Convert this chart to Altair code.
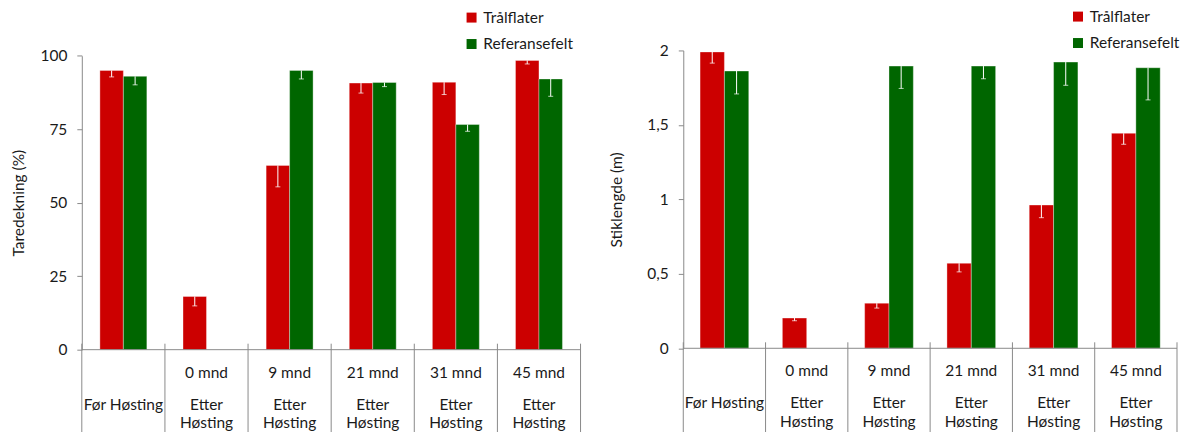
import altair as alt
import pandas as pd

# ---- data ----
categories = ["Før Høsting", "0 mnd", "9 mnd", "21 mnd", "31 mnd", "45 mnd"]
series = ["Trålflater", "Referansefelt"]

row1_labels = ["", "0 mnd", "9 mnd", "21 mnd", "31 mnd", "45 mnd"]
row2_labels = ["Før Høsting", "Etter", "Etter", "Etter", "Etter", "Etter"]
row3_labels = ["", "Høsting", "Høsting", "Høsting", "Høsting", "Høsting"]

# Taredekning (%)
cover_tral = [95.0, 18.1, 62.7, 90.7, 91.0, 98.4]
cover_tral_lo = [92.8, 14.9, 55.4, 87.3, 86.8, 97.2]
cover_ref = [93.0, None, 95.0, 90.9, 76.6, 92.1]
cover_ref_lo = [90.1, None, 92.1, 89.5, 74.3, 86.2]

# Stiklengde (m)
stem_tral = [1.99, 0.203, 0.303, 0.571, 0.962, 1.444]
stem_tral_lo = [1.915, 0.185, 0.270, 0.513, 0.877, 1.370]
stem_ref = [1.862, None, 1.895, 1.895, 1.922, 1.884]
stem_ref_lo = [1.708, None, 1.745, 1.810, 1.766, 1.668]

cover_ticks = [0, 25, 50, 75, 100]
stem_ticks = [0, 0.5, 1, 1.5, 2]

RED = "#CC0000"
GREEN = "#006600"
GRAY = "#8a8a8a"
FONT = "Lato"
FS = 15.5
TXT = "#1a1a1a"


def make_df(tral, tral_lo, ref, ref_lo):
    rows = []
    for i, c in enumerate(categories):
        rows.append({"cat": c, "series": series[0], "value": tral[i], "lower": tral_lo[i]})
        rows.append({"cat": c, "series": series[1], "value": ref[i], "lower": ref_lo[i]})
    return pd.DataFrame(rows)


def panel(df, ymax, ticks, ytitle, width, height, top, off_pad, title_pad, legend_x,
          legend_y):
    x = alt.X("cat:N", sort=categories, axis=None,
              scale=alt.Scale(paddingInner=0, paddingOuter=0))
    xo = alt.XOffset("series:N", sort=series,
                     scale=alt.Scale(paddingInner=0, paddingOuter=off_pad))
    yaxis = alt.Axis(values=ticks, title=ytitle, grid=False, domainColor=GRAY,
                     tickColor=GRAY, tickSize=5, labelPadding=10,
                     labelFontSize=FS, labelFont=FONT, labelColor=TXT,
                     titleFont=FONT, titleFontSize=FS, titleFontWeight="normal",
                     titleColor=TXT, titlePadding=title_pad,
                     labelExpr="replace(toString(datum.value), '.', ',')")
    y = alt.Y("value:Q", scale=alt.Scale(domain=[0, ymax], nice=False,
                                         range=[height, top]), axis=yaxis)

    base = alt.Chart(df)
    bars = base.mark_bar(stroke="white", strokeOpacity=0.35, strokeWidth=1).encode(
        x=x, xOffset=xo, y=y,
        color=alt.Color("series:N", sort=series,
                        scale=alt.Scale(domain=series, range=[RED, GREEN]),
                        legend=alt.Legend(title=None, orient="none",
                                          legendX=legend_x, legendY=legend_y,
                                          symbolType="square", symbolSize=100,
                                          symbolStrokeWidth=0, labelFont=FONT,
                                          labelFontSize=FS, labelColor=TXT,
                                          rowPadding=9.5, labelOffset=4, padding=0)),
    )
    err = base.mark_rule(color="white", strokeWidth=1).encode(
        x=x, xOffset=xo, y="value:Q", y2="lower:Q")
    caps = base.mark_tick(color="white", size=5, thickness=1).encode(
        x=x, xOffset=xo, y="lower:Q")

    zero = alt.Chart(pd.DataFrame({"v": [0]})).mark_rule(color=GRAY).encode(
        y=alt.Y("v:Q"), x=alt.value(0), x2=alt.value(width))

    sep_df = pd.DataFrame({"cat": categories})
    seps = alt.Chart(sep_df).mark_rule(color=GRAY).encode(
        x=alt.X("cat:N", sort=categories, axis=None, bandPosition=0),
        y=alt.value(height - 6), y2=alt.value(height + 95))
    sep_end = alt.Chart(pd.DataFrame({"v": [0]})).mark_rule(color=GRAY).encode(
        x=alt.value(width), y=alt.value(height - 6), y2=alt.value(height + 95))

    texts = []
    for labels, dy in [(row1_labels, 23), (row2_labels, 55), (row3_labels, 74)]:
        tdf = pd.DataFrame({"cat": categories, "label": labels})
        texts.append(alt.Chart(tdf).mark_text(font=FONT, fontSize=FS, color=TXT,
                                              baseline="middle").encode(
            x=alt.X("cat:N", sort=categories, axis=None),
            y=alt.value(height + dy), text="label:N"))

    return alt.layer(bars, err, caps, zero, seps, sep_end, *texts).properties(
        width=width, height=height)


left = panel(make_df(cover_tral, cover_tral_lo, cover_ref, cover_ref_lo), 100, cover_ticks,
             "Taredekning (%)", 500, 300, 5.3, 0.77, 13, 383, -40.7)
right = panel(make_df(stem_tral, stem_tral_lo, stem_ref, stem_ref_lo), 2, stem_ticks,
              "Stiklengde (m)", 495, 298.6, 0, 0.69, 22, 388, -41.7)

chart = alt.hconcat(left, right, spacing=28).resolve_scale(
    color="independent", x="independent", y="independent", xOffset="independent"
).resolve_legend(color="independent").configure(
    padding={"left": 4, "top": 0, "right": 0, "bottom": 0}, font=FONT
).configure_view(stroke=None)

chart.save("out.html", embed_options={"renderer": "svg", "actions": False})
